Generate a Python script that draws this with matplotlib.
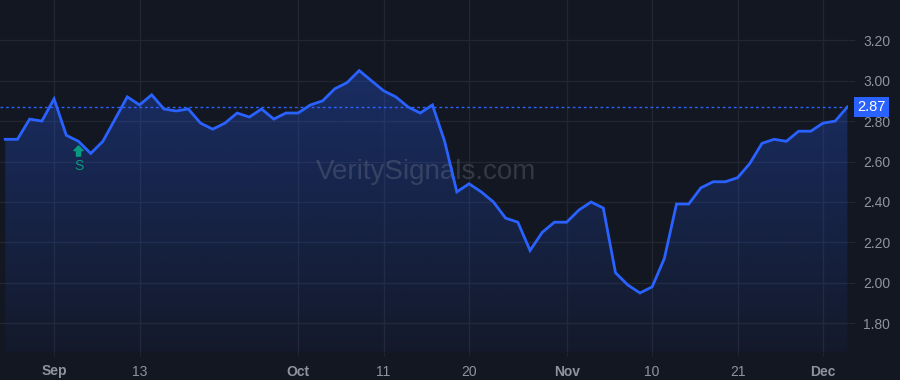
"""
Dark price chart with gradient area fill, right price scale and last-price tag.
"""

import numpy as np
import matplotlib
matplotlib.use("Agg")
import matplotlib.pyplot as plt
import matplotlib.transforms as mtransforms
from matplotlib.path import Path
from matplotlib.patches import Polygon

# Daily closes (trading days, Aug 28 -> Dec 5)
prices = [
    2.71, 2.71, 2.81, 2.80, 2.91, 2.73, 2.70, 2.64, 2.70, 2.81,
    2.92, 2.88, 2.93, 2.86, 2.85, 2.86, 2.79, 2.76, 2.79, 2.84,
    2.82, 2.86, 2.81, 2.84, 2.84, 2.88, 2.90, 2.96, 2.99, 3.05,
    3.00, 2.95, 2.92, 2.87, 2.84, 2.88, 2.70, 2.45, 2.49, 2.45,
    2.40, 2.32, 2.30, 2.16, 2.25, 2.30, 2.30, 2.36, 2.40, 2.37,
    2.05, 1.99, 1.95, 1.98, 2.12, 2.39, 2.39, 2.47, 2.50, 2.50,
    2.52, 2.59, 2.69, 2.71, 2.70, 2.75, 2.75, 2.79, 2.80, 2.87,
]

# Date axis labels (index into prices)
tick_index = [4, 11, 24, 31, 38, 46, 53, 60, 67]
tick_labels = ["Sep", "13", "Oct", "11", "20", "Nov", "10", "21", "Dec"]
month_labels = {"Sep", "Oct", "Nov", "Dec"}

price_ticks = [1.80, 2.00, 2.20, 2.40, 2.60, 2.80, 3.00, 3.20]

signal_index = 6
signal_label = "S"
watermark = "VeritySignals.com"

# Colours
BG = "#131722"
GRID = "#222631"
LINE = "#2962ff"
TEXT = "#8f939e"
SIGNAL = "#089981"

plt.rcParams["font.family"] = ["Liberation Sans", "DejaVu Sans"]

x = np.arange(len(prices))
y = np.array(prices)

fig = plt.figure(figsize=(9, 3.8), dpi=100, facecolor=BG)
ax = fig.add_axes([0, 28 / 380, 848 / 900, 352 / 380], facecolor=BG)

xlim = (-0.43, len(prices) - 1 + 0.05)
ylim = (1.658, 3.399)
ax.set_xlim(*xlim)
ax.set_ylim(*ylim)

# Gradient fill under the line
grad = np.zeros((256, 1, 4))
rgb = matplotlib.colors.to_rgb(LINE)
grad[:, 0, 0:3] = rgb
grad[:, 0, 3] = np.linspace(0.30, 0.04, 256)
im = ax.imshow(grad, aspect="auto", origin="upper",
               extent=[xlim[0], xlim[1], ylim[0], y.max()], zorder=1)
verts = np.vstack([[x[0], ylim[0]], np.column_stack([x, y]), [x[-1], ylim[0]]])
poly = Polygon(verts, closed=True, facecolor="none", edgecolor="none")
ax.add_patch(poly)
im.set_clip_path(poly)

ax.plot(x, y, color=LINE, linewidth=2, zorder=3, solid_joinstyle="miter")

# Last price dotted line
ax.axhline(y[-1], color=LINE, linewidth=1, linestyle=(0, (2, 2)), zorder=2)

# Grid
ax.set_xticks(tick_index)
ax.set_yticks(price_ticks)
ax.grid(True, color=GRID, linewidth=1, zorder=0)
ax.set_axisbelow(True)

ax.set_xticklabels(tick_labels)
for lbl in ax.get_xticklabels():
    if lbl.get_text() in month_labels:
        lbl.set_fontweight("bold")
ax.tick_params(axis="x", colors=GRID, labelcolor=TEXT, labelsize=10,
               length=3, pad=6)

ax.yaxis.tick_right()
ax.set_yticklabels([f"{v:.2f}" for v in price_ticks])
ax.tick_params(axis="y", colors=GRID, labelcolor=TEXT, labelsize=10,
               length=5, pad=6)

for sp in ax.spines.values():
    sp.set_visible(False)

# Last price tag on the scale
tag_trans = mtransforms.blended_transform_factory(ax.transAxes, ax.transData)
ax.annotate(f"{y[-1]:.2f}", xy=(1, y[-1]), xycoords=tag_trans,
            xytext=(9, 0), textcoords="offset pixels",
            ha="left", va="center", color="white", fontsize=10.5,
            annotation_clip=False,
            bbox=dict(boxstyle="square,pad=0.22", fc=LINE, ec="none"))

# Signal marker: up arrow and label below the point
arrow = Path([(-0.5, 0.1), (0, 0.6), (0.5, 0.1), (0.22, 0.1), (0.22, -0.5),
              (-0.22, -0.5), (-0.22, 0.1), (-0.5, 0.1)],
             [Path.MOVETO] + [Path.LINETO] * 6 + [Path.CLOSEPOLY])
arrow_trans = mtransforms.offset_copy(ax.transData, fig=fig, y=-10, units="dots")
ax.plot(signal_index, y[signal_index], marker=arrow, markersize=8,
        color=SIGNAL, linestyle="none", transform=arrow_trans, zorder=4)
ax.annotate(signal_label, xy=(signal_index, y[signal_index]),
            xytext=(0, -25), textcoords="offset pixels",
            ha="center", va="center", color=SIGNAL, fontsize=10, zorder=4)

# Watermark
ax.text(0.503, 0.51, watermark, transform=ax.transAxes, ha="center",
        va="center", fontsize=20, color="#8a8e9a", alpha=0.28, zorder=2)

fig.savefig("out.png", dpi=100, facecolor=BG)
